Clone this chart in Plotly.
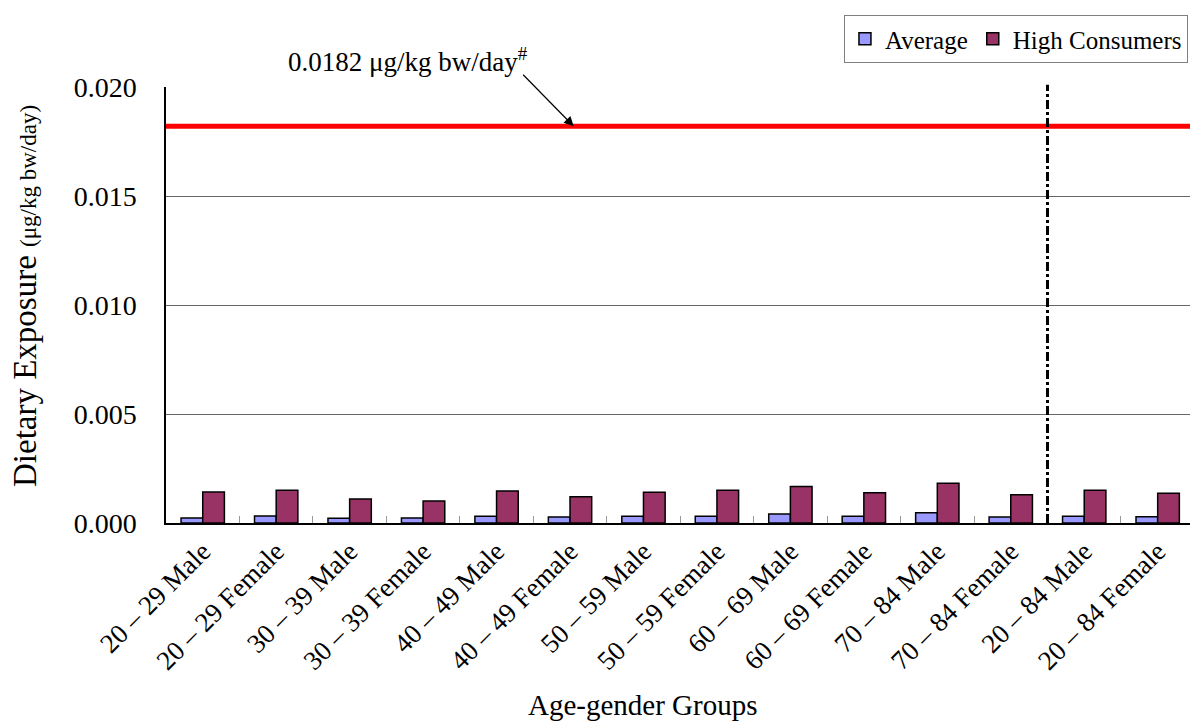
import plotly.graph_objects as go

categories = ["20 – 29 Male", "20 – 29 Female", "30 – 39 Male", "30 – 39 Female",
              "40 – 49 Male", "40 – 49 Female", "50 – 59 Male", "50 – 59 Female",
              "60 – 69 Male", "60 – 69 Female", "70 – 84 Male", "70 – 84 Female",
              "20 – 84 Male", "20 – 84 Female"]
average = [0.00023, 0.00032, 0.00022, 0.00023, 0.00031, 0.00028, 0.00031, 0.00031,
           0.00041, 0.00031, 0.00047, 0.00028, 0.00031, 0.00029]
high_consumers = [0.00142, 0.00150, 0.00110, 0.00101, 0.00147, 0.00120, 0.00141, 0.00150,
                  0.00168, 0.00139, 0.00182, 0.00130, 0.00150, 0.00136]
reference_value = 0.0182
reference_label = "0.0182 μg/kg bw/day<sup>#</sup>"
y_ticks = [0.0, 0.005, 0.010, 0.015, 0.020]
y_tick_labels = ["0.000", "0.005", "0.010", "0.015", "0.020"]

FONT = "Times New Roman, Liberation Serif, serif"

fig = go.Figure()
fig.add_trace(go.Bar(name="Average", x=categories, y=average,
                     marker=dict(color="#9999FF", line=dict(color="black", width=1.5))))
fig.add_trace(go.Bar(name="High Consumers", x=categories, y=high_consumers,
                     marker=dict(color="#993366", line=dict(color="black", width=1.5))))

fig.add_shape(type="line", xref="paper", yref="y", x0=0, x1=1,
              y0=reference_value, y1=reference_value,
              line=dict(color="#FF0000", width=5), layer="above")
fig.add_shape(type="line", xref="x", yref="paper", x0=11.5, x1=11.5, y0=0, y1=1.005,
              line=dict(color="black", width=3, dash="dashdot"), layer="above")

fig.add_annotation(x=5.05, y=reference_value, xref="x", yref="y", text="",
                   showarrow=True, ax=-52, ay=-53, arrowhead=2, arrowsize=1.6,
                   arrowwidth=1.2, arrowcolor="black")
fig.add_annotation(x=(530 - 166) / 1024, y=(523 - 60) / 436, xref="paper", yref="paper",
                   text=reference_label, showarrow=False, xanchor="right", yanchor="middle",
                   font=dict(family=FONT, size=27, color="black"))

fig.add_annotation(x=(643 - 166) / 1024, y=-(705 - 523) / 436, xref="paper", yref="paper",
                   text="Age-gender Groups", showarrow=False, xanchor="center", yanchor="middle",
                   font=dict(family=FONT, size=29, color="black"))
fig.add_annotation(x=(25 - 166) / 1024, y=(523 - 296) / 436, xref="paper", yref="paper",
                   text="Dietary Exposure <span style='font-size:23px'>(μg/kg bw/day)</span>",
                   textangle=-90, showarrow=False, xanchor="center", yanchor="middle",
                   font=dict(family=FONT, size=33, color="black"))

fig.update_layout(
    width=1190, height=722,
    margin=dict(l=166, r=0, t=87, b=199),
    paper_bgcolor="white", plot_bgcolor="white",
    barmode="group", bargap=0.41, bargroupgap=0,
    font=dict(family=FONT, color="black"),
    showlegend=True,
    legend=dict(orientation="h", x=0.998, xanchor="right", y=1 + (87 - 15) / 436, yanchor="top",
                bordercolor="#808080", borderwidth=1, bgcolor="white",
                font=dict(family=FONT, size=25, color="black"),
                itemwidth=30, traceorder="normal"),
)
fig.update_xaxes(type="category", tickangle=-45, tickson="boundaries", ticks="inside",
                 range=[-0.5, 13.44],
                 ticklen=7, tickcolor="#999999", showline=True, linecolor="black", linewidth=1.5,
                 tickfont=dict(family=FONT, size=27, color="black"), showgrid=False)
fig.update_yaxes(range=[0, 0.020], tickvals=y_ticks, ticktext=y_tick_labels,
                 showline=True, linecolor="black", linewidth=1.5, showgrid=True,
                 gridcolor="#666666", gridwidth=1, zeroline=False, ticks="",
                 ticklabelstandoff=22,
                 tickfont=dict(family=FONT, size=28, color="black"))

fig.write_html("out.html", config={"displayModeBar": False},
               post_script="document.body.style.margin='0';")
